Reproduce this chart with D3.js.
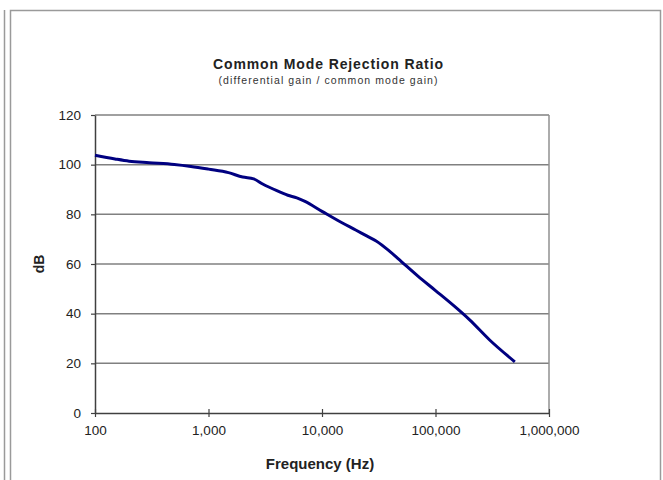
<!DOCTYPE html>
<html><head><meta charset="utf-8">
<script src="https://cdn.jsdelivr.net/npm/d3@7"></script>
<style>body{margin:0;background:#fff}svg{display:block}text{font-family:"Liberation Sans",Arial,sans-serif}</style>
</head><body>
<svg id="c" width="663" height="480"></svg>
<script>
const freqs = [100,150,200,300,500,700,1000,1500,2000,2500,3000,4000,5000,6000,7000,10000,15000,20000,25000,30000,40000,50000,70000,100000,150000,200000,300000,500000];
const dbVals = [103.8,102.3,101.4,100.8,100.1,99.3,98.2,96.8,95.0,94.3,92.2,89.5,87.7,86.6,85.3,81.2,76.6,73.6,71.2,69.3,64.9,61.0,55.1,49.3,42.6,37.5,29.4,20.6];
const xTicks = [100,1000,10000,100000,1000000];
const yTicks = [0,20,40,60,80,100,120];
const titleText = "Common Mode Rejection Ratio";
const subtitleText = "(differential gain / common mode gain)";
const xTitle = "Frequency (Hz)";
const yTitle = "dB";

const svg = d3.select("#c");
// frame
svg.append("line").attr("x1",4.5).attr("x2",4.5).attr("y1",10).attr("y2",480).attr("stroke","#9a9a9a").attr("stroke-width",1.5);
svg.append("rect").attr("x",10.5).attr("y",10.5).attr("width",650).attr("height",480).attr("fill","none").attr("stroke","#9a9a9a").attr("stroke-width",1.5);

const L=95, R=549, T=115, B=413;
const x = d3.scaleLog().domain([100,1000000]).range([L,R]);
const y = d3.scaleLinear().domain([0,120]).range([B,T]);

// gridlines
svg.append("g").selectAll("line").data(yTicks.filter(d=>d>0)).join("line")
  .attr("x1",L).attr("x2",R).attr("y1",d=>y(d)).attr("y2",d=>y(d))
  .attr("stroke","#808080").attr("stroke-width",1.5);
// plot right border
svg.append("line").attr("x1",R).attr("x2",R).attr("y1",T).attr("y2",B).attr("stroke","#909090").attr("stroke-width",1.5);

// axes
const fmt = d3.format(",");
const xa = svg.append("g").attr("transform",`translate(0,${B})`)
  .call(d3.axisBottom(x).tickValues(xTicks).tickFormat(fmt).tickSizeInner(4).tickSizeOuter(0).tickPadding(8));
const ya = svg.append("g").attr("transform",`translate(${L},0)`)
  .call(d3.axisLeft(y).tickValues(yTicks).tickSizeInner(4).tickSizeOuter(0).tickPadding(10));
[xa,ya].forEach(a=>{
  a.select(".domain").attr("stroke","#404040").attr("stroke-width",1.5);
  a.selectAll(".tick line").attr("stroke","#404040").attr("stroke-width",1.2);
  a.selectAll(".tick text").attr("font-size",13.5).attr("fill","#222").attr("font-family","'Liberation Sans',Arial,sans-serif");
});
// cross ticks upward on x axis
xa.selectAll(".tick").append("line").attr("y1",0).attr("y2",-4).attr("stroke","#404040").attr("stroke-width",1.2);

// curve
const line = d3.line().x((d,i)=>x(freqs[i])).y(d=>y(d)).curve(d3.curveMonotoneX);
svg.append("path").datum(dbVals).attr("d",line).attr("fill","none").attr("stroke","#000080").attr("stroke-width",3).attr("stroke-linejoin","round");

// titles
svg.append("text").attr("x",328).attr("y",69).attr("text-anchor","middle").attr("font-size",14).attr("font-weight","bold").attr("fill","#222")
  .attr("textLength",230).attr("lengthAdjust","spacing").text(titleText);
svg.append("text").attr("x",328).attr("y",84).attr("text-anchor","middle").attr("font-size",10.5).attr("fill","#333")
  .attr("textLength",219).attr("lengthAdjust","spacing").text(subtitleText);
svg.append("text").attr("x",320).attr("y",469).attr("text-anchor","middle").attr("font-size",15).attr("font-weight","bold").attr("fill","#222").text(xTitle);
svg.append("text").attr("transform","translate(44,264) rotate(-90)").attr("text-anchor","middle").attr("font-size",14).attr("font-weight","bold").attr("fill","#222").text(yTitle);
</script>
</body></html>
